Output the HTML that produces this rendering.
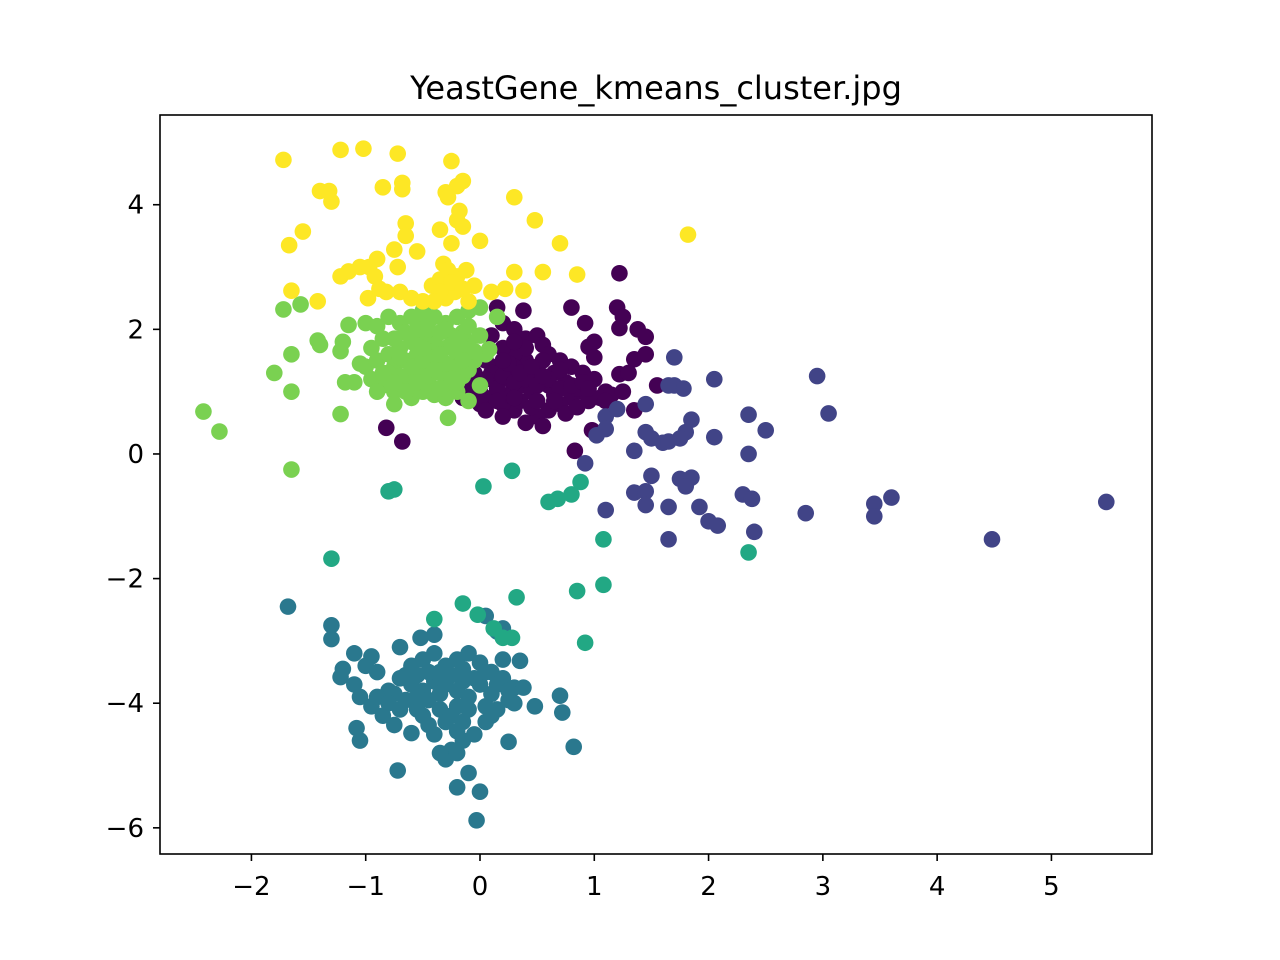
<!DOCTYPE html>
<html><head><meta charset="utf-8"><style>
html,body{margin:0;padding:0;background:#fff;width:1280px;height:960px;overflow:hidden}
svg text{font-family:"DejaVu Sans","Liberation Sans",sans-serif;fill:#000}
</style></head><body>
<svg id="chart" width="1280" height="960" viewBox="0 0 1280 960" xmlns="http://www.w3.org/2000/svg">
<rect width="1280" height="960" fill="#fff"/>
<text x="656" y="99" font-size="32" text-anchor="middle">YeastGene_kmeans_cluster.jpg</text>
<g id="points"></g>
<rect x="160" y="115" width="992" height="739" fill="none" stroke="#000" stroke-width="1.6"/>
<g id="axes"></g>
</svg>
<script>
const xTicks=[-2,-1,0,1,2,3,4,5];
const yTicks=[-6,-4,-2,0,2,4];
const clusterColors=["#440154","#414487","#2a788e","#22a884","#7ad151","#fde725"];
const purplePts=[[1.22,2.9],[0.8,2.35],[1.2,2.35],[1.25,2.2],[1.22,2.02],[1.38,2.0],[1.45,1.88],[1.0,1.8],[0.95,1.72],[0.92,2.1],[1.0,1.55],[1.35,1.52],[1.45,1.6],[1.55,1.1],[1.22,1.28],[1.3,1.3],[1.35,0.7],[0.98,0.38],[0.83,0.05],[-0.82,0.42],[-0.68,0.2],[0.38,2.3],[0.15,2.35],[0.2,2.1],[0.3,2.0],[0.1,1.9],[0.4,1.85],[0.5,1.9],[0.55,1.75],[0.6,1.6],[0.7,1.5],[0.8,1.4],[0.9,1.3],[1.0,1.2],[1.1,1.0],[1.05,0.9],[0.9,1.0],[0.8,0.9],[0.7,0.8],[0.6,0.7],[0.5,0.6],[0.4,0.5],[0.55,0.45],[0.3,0.7],[0.2,0.8],[0.1,0.9],[0.0,1.0],[-0.1,1.1],[-0.15,0.9],[-0.05,1.3],[0.05,1.5],[0.15,1.4],[0.25,1.2],[0.35,1.1],[0.45,1.0],[0.5,1.3],[0.4,1.5],[0.3,1.6],[0.2,1.7],[0.1,1.2],[0.0,0.8],[-0.1,1.5],[0.6,1.1],[0.65,1.3],[0.75,1.15],[0.85,1.05],[0.95,0.85],[0.75,0.65],[0.65,0.95],[0.25,0.95],[0.15,1.05],[0.45,1.25],[0.35,0.85],[0.55,1.5],[1.15,0.95],[1.25,1.0],[0.2,0.6],[0.05,0.7],[0.3,1.4],[0.7,1.35],[-0.05,1.05],[0.85,0.75],[0.45,0.75],[0.1,1.3],[0.2,1.25],[0.3,1.15],[0.4,1.2],[0.5,1.1],[0.6,1.2],[0.7,1.05],[0.8,1.1],[0.9,1.15],[0.25,1.45],[0.35,1.3],[0.45,1.4],[0.55,1.25],[0.15,0.85],[0.3,0.9],[0.5,0.85],[0.65,0.85],[0.05,1.2],[0.4,1.7],[0.3,1.8],[0.2,1.5],[1.1,0.85],[0.95,1.05]];
const bluePts=[[1.7,1.55],[2.05,1.2],[2.95,1.25],[3.05,0.65],[2.35,0.63],[2.5,0.38],[2.05,0.27],[2.35,0.0],[1.85,0.55],[1.8,0.35],[1.75,0.25],[1.7,1.1],[1.78,1.05],[1.65,1.1],[1.45,0.8],[1.45,0.35],[1.5,0.25],[1.6,0.18],[1.65,0.2],[1.35,0.05],[1.1,0.6],[1.1,0.4],[1.02,0.3],[1.2,0.72],[0.92,-0.15],[1.5,-0.35],[1.35,-0.62],[1.45,-0.6],[1.45,-0.82],[1.65,-0.85],[1.75,-0.4],[1.85,-0.38],[1.8,-0.52],[1.92,-0.85],[2.0,-1.08],[2.08,-1.15],[2.3,-0.65],[2.38,-0.72],[2.4,-1.25],[1.1,-0.9],[1.65,-1.37],[2.85,-0.95],[3.45,-0.8],[3.45,-1.0],[3.6,-0.7],[4.48,-1.37],[5.48,-0.77]];
const tealPts=[[-1.68,-2.45],[-1.3,-2.75],[-1.3,-2.97],[-1.1,-3.2],[-1.2,-3.45],[-1.22,-3.58],[-1.08,-4.4],[-1.05,-4.6],[-0.72,-5.08],[-0.2,-5.35],[-0.1,-5.12],[0.0,-5.42],[-0.03,-5.88],[0.7,-3.88],[0.72,-4.15],[0.82,-4.7],[0.48,-4.05],[0.35,-3.32],[0.25,-4.62],[0.05,-2.6],[0.2,-2.8],[-0.6,-4.48],[-0.52,-2.95],[-0.7,-3.1],[-0.95,-3.25],[-1.0,-3.4],[-0.9,-3.5],[-1.1,-3.7],[-1.05,-3.9],[-0.95,-4.05],[-0.85,-4.2],[-0.75,-4.35],[-0.8,-3.8],[-0.7,-3.6],[-0.6,-3.4],[-0.5,-3.3],[-0.4,-3.2],[-0.3,-3.4],[-0.2,-3.3],[-0.1,-3.2],[0.0,-3.35],[0.1,-3.5],[0.2,-3.6],[0.3,-3.75],[0.38,-3.75],[0.25,-3.95],[0.15,-4.1],[0.05,-4.3],[-0.05,-4.5],[-0.15,-4.6],[-0.25,-4.75],[-0.3,-4.9],[-0.35,-4.8],[-0.2,-4.8],[-0.45,-4.35],[-0.55,-4.1],[-0.65,-3.95],[-0.5,-3.8],[-0.4,-3.65],[-0.3,-3.7],[-0.2,-3.8],[-0.1,-3.9],[0.0,-3.7],[0.1,-3.85],[-0.35,-4.1],[-0.25,-4.2],[-0.15,-4.3],[-0.45,-3.95],[-0.6,-3.7],[-0.75,-3.85],[-0.9,-3.9],[-0.35,-3.5],[-0.05,-3.6],[0.2,-3.3],[0.15,-2.85],[-0.4,-2.9],[-0.8,-4.0],[0.3,-4.0],[-0.55,-3.55],[-0.2,-4.05],[0.05,-4.05],[-0.45,-3.5],[-0.25,-3.55],[-0.15,-3.65],[0.05,-3.5],[-0.35,-3.85],[-0.55,-3.9],[-0.1,-4.1],[0.15,-3.7],[-0.65,-3.55],[-0.3,-4.3],[-0.5,-4.2],[-0.15,-3.45],[0.1,-4.2],[-0.7,-4.1],[-0.4,-4.5],[-0.2,-4.45],[0.25,-3.8]];
const greenPts=[[-0.8,-0.6],[-0.75,-0.57],[0.03,-0.52],[0.28,-0.27],[0.6,-0.77],[0.68,-0.72],[0.8,-0.65],[0.88,-0.45],[1.08,-1.37],[2.35,-1.58],[-1.3,-1.68],[0.85,-2.2],[1.08,-2.1],[0.32,-2.3],[-0.15,-2.4],[-0.4,-2.65],[-0.02,-2.58],[0.12,-2.8],[0.2,-2.95],[0.28,-2.95],[0.92,-3.03]];
const lightPts=[[-2.42,0.68],[-2.28,0.36],[-1.72,2.32],[-1.57,2.4],[-1.65,1.6],[-1.65,1.0],[-1.65,-0.25],[-1.8,1.3],[-1.42,1.82],[-1.4,1.75],[-1.22,1.65],[-1.22,0.64],[-1.18,1.15],[-1.1,1.15],[-1.15,2.07],[-1.2,1.8],[-0.28,0.58],[0.08,1.68],[-1.0,2.1],[-0.9,2.05],[-0.8,2.2],[-0.7,2.1],[-0.6,2.2],[-0.5,2.1],[-0.4,2.2],[-0.3,2.1],[-0.2,2.2],[-0.1,2.3],[0.0,2.35],[0.15,2.2],[-1.0,1.4],[-0.9,1.5],[-0.8,1.6],[-0.7,1.7],[-0.6,1.8],[-0.5,1.9],[-0.4,1.8],[-0.3,1.7],[-0.2,1.6],[-0.1,1.8],[0.0,1.9],[-0.95,1.2],[-0.85,1.1],[-0.75,1.0],[-0.65,1.2],[-0.55,1.3],[-0.45,1.4],[-0.35,1.5],[-0.25,1.35],[-0.15,1.25],[-0.05,1.5],[-0.75,0.8],[-0.6,0.9],[-0.5,1.0],[-0.4,0.95],[-0.3,1.1],[-0.2,1.0],[-0.1,0.85],[0.0,1.1],[-0.85,1.85],[-0.75,1.4],[-0.65,1.5],[-0.55,1.6],[-0.45,1.65],[-0.35,1.3],[-0.25,1.9],[-0.15,1.95],[0.05,1.6],[-0.95,1.7],[-0.8,1.3],[-0.7,1.25],[-0.45,1.15],[-0.6,1.05],[-0.3,0.9],[-0.1,2.05],[-1.05,1.45],[-0.5,2.3],[-0.65,1.95],[-0.55,2.0],[-0.45,2.0],[-0.35,1.95],[-0.25,1.75],[-0.15,1.7],[-0.05,1.65],[-0.6,1.4],[-0.5,1.5],[-0.4,1.55],[-0.3,1.45],[-0.2,1.4],[-0.1,1.35],[-0.7,1.55],[-0.5,1.7],[-0.35,1.6],[-0.25,1.2],[-0.45,1.25],[-0.55,1.15],[-0.35,1.05],[-0.2,1.15],[-0.65,1.0],[-0.85,1.3],[-0.9,1.0],[-0.75,1.15],[-0.4,1.35],[-0.15,1.5],[-0.3,2.0],[-0.2,1.85],[-0.75,1.85]];
const yellowPts=[[-1.72,4.72],[-1.22,4.88],[-1.02,4.9],[-0.72,4.82],[-0.25,4.7],[-1.4,4.22],[-1.32,4.22],[-1.3,4.05],[-0.85,4.28],[-0.68,4.35],[-0.68,4.25],[-0.15,4.38],[-0.2,4.3],[-0.3,4.2],[-0.28,4.12],[0.3,4.12],[-1.67,3.35],[-1.55,3.57],[-0.65,3.7],[-0.65,3.5],[-0.75,3.28],[-0.72,3.0],[-0.55,3.25],[-0.35,3.6],[-0.25,3.38],[-0.2,3.75],[-0.18,3.9],[-0.15,3.65],[0.0,3.42],[0.48,3.75],[0.7,3.38],[1.82,3.52],[-1.22,2.85],[-1.15,2.93],[-1.05,3.0],[-0.97,3.0],[-0.92,2.85],[-0.9,3.13],[-0.82,2.6],[-0.7,2.6],[-0.6,2.5],[-0.5,2.45],[-0.42,2.7],[-0.35,2.8],[-0.32,3.05],[-0.28,2.95],[-0.2,2.85],[-0.12,2.95],[-0.05,2.7],[0.1,2.6],[0.3,2.92],[0.38,2.62],[0.55,2.92],[0.85,2.88],[-1.65,2.62],[-1.42,2.45],[-0.98,2.5],[-0.88,2.65],[-0.3,2.5],[-0.22,2.6],[-0.1,2.45],[0.22,2.65],[-0.25,2.75],[-0.15,2.65],[-0.35,2.6],[-0.4,2.45]];
const clusters=[purplePts,bluePts,tealPts,greenPts,lightPts,yellowPts];
const NS="http://www.w3.org/2000/svg";
const X0=-2.8,X1=5.88,Y0=-6.42,Y1=5.44,L=160,R=1152,T=115,B=854;
function sx(v){return L+(v-X0)/(X1-X0)*(R-L);}
function sy(v){return B-(v-Y0)/(Y1-Y0)*(B-T);}
const pg=document.getElementById('points');
clusters.forEach((pts,ci)=>{pts.forEach(p=>{
 const c=document.createElementNS(NS,'circle');
 c.setAttribute('cx',sx(p[0]));c.setAttribute('cy',sy(p[1]));c.setAttribute('r',8.3);c.setAttribute('fill',clusterColors[ci]);
 
 
 pg.appendChild(c);});});
const ag=document.getElementById('axes');
function mk(tag,attrs,txt){const e=document.createElementNS(NS,tag);for(const k in attrs)e.setAttribute(k,attrs[k]);if(txt!==undefined)e.textContent=txt;ag.appendChild(e);return e;}
const fmt=v=>v<0?'\u2212'+(-v):String(v);
xTicks.forEach(v=>{const x=sx(v);
 const t=mk('line',{x1:x,x2:x,y1:B,y2:B+7,stroke:'#000','stroke-width':1.6});
 
 
 const l=mk('text',{x:x,y:B+41,'font-size':26,'text-anchor':'middle'},fmt(v));
 
 });
yTicks.forEach(v=>{const y=sy(v);
 const t=mk('line',{x1:L-7,x2:L,y1:y,y2:y,stroke:'#000','stroke-width':1.6});
 
 
 const l=mk('text',{x:L-16,y:y+9,'font-size':26,'text-anchor':'end'},fmt(v));
 
 });
</script>
</body></html>
